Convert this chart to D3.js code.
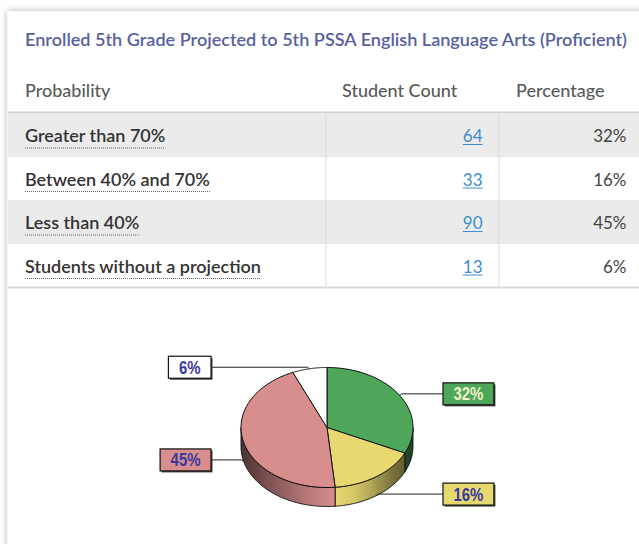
<!DOCTYPE html>
<html>
<head>
<meta charset="utf-8">
<script src="https://cdn.jsdelivr.net/npm/d3@7"></script>
<style>
  body { margin: 0; background: #fff; }
  svg { display: block; }
</style>
</head>
<body>
<script>
const width = 639,
  height = 544;

const title = "Enrolled 5th Grade Projected to 5th PSSA English Language Arts (Proficient)";
const headers = ["Probability", "Student Count", "Percentage"];
const categories = ["Greater than 70%", "Between 40% and 70%", "Less than 40%", "Students without a projection"];
const counts = [64, 33, 90, 13];
const percents = [32, 16, 45, 6];
const sliceColors = ["#4ea65a", "#e8d870", "#d98e8e", "#ffffff"];
const labelInk = ["#eef2c6", "#3b3b9e", "#3b3b9e", "#3b3b9e"];

const svg = d3.select("body").append("svg")
  .attr("width", width)
  .attr("height", height);

const defs = svg.append("defs");
defs.append("filter")
  .attr("id", "cardShadow")
  .attr("x", "-10%").attr("y", "-10%").attr("width", "120%").attr("height", "120%")
  .append("feDropShadow")
  .attr("dx", 0).attr("dy", 0)
  .attr("stdDeviation", 3.5)
  .attr("flood-color", "#000")
  .attr("flood-opacity", 0.3);

// card
svg.append("rect")
  .attr("x", 7.5).attr("y", 11)
  .attr("width", 700).attr("height", 600)
  .attr("fill", "#fff")
  .attr("filter", "url(#cardShadow)");

const font = "Lato, 'Open Sans', sans-serif";

svg.append("text")
  .attr("x", 25).attr("y", 45.7)
  .attr("fill", "#5760a0")
  .style("font", "16.5px " + font)
  .style("font-weight", 600)
  .attr("textLength", 602)
  .attr("lengthAdjust", "spacingAndGlyphs")
  .text(title);

// header
const headerX = [25, 342, 516];
svg.selectAll(".hdr").data(headers).join("text")
  .attr("class", "hdr")
  .attr("x", (d, i) => headerX[i])
  .attr("y", 97)
  .attr("fill", "#5a5a5a")
  .style("font", "18px " + font)
  .style("font-weight", 500)
  .text(d => d);

svg.append("line")
  .attr("x1", 8).attr("x2", width)
  .attr("y1", 112.5).attr("y2", 112.5)
  .attr("stroke", "#d3d3d3").attr("stroke-width", 2);

// rows
const y = d3.scaleBand().domain(categories).range([113.5, 287.5]);
const rows = svg.selectAll(".row").data(categories).join("g").attr("class", "row");

rows.append("rect")
  .attr("x", 8).attr("width", width - 8)
  .attr("y", d => y(d)).attr("height", y.bandwidth())
  .attr("fill", (d, i) => i % 2 === 0 ? "#ebebeb" : "#fff");

rows.append("line")
  .attr("x1", 8).attr("x2", width)
  .attr("y1", d => y(d) + y.bandwidth()).attr("y2", d => y(d) + y.bandwidth())
  .attr("stroke", (d, i) => i === categories.length - 1 ? "#dadada" : "#e3e3e3")
  .attr("stroke-width", (d, i) => i === categories.length - 1 ? 2 : 1);

[326, 499].forEach(x => {
  svg.append("line")
    .attr("x1", x).attr("x2", x)
    .attr("y1", 113.5).attr("y2", 287.5)
    .attr("stroke", "#dcdcdc");
});

const labels = rows.append("text")
  .attr("x", 25)
  .attr("y", d => y(d) + 28.5)
  .attr("fill", "#333")
  .style("font", "18px " + font)
  .style("font-weight", 600)
  .text(d => d);

labels.each(function (d) {
  const w = this.getComputedTextLength();
  d3.select(this.parentNode).append("line")
    .attr("x1", 25).attr("x2", 25 + w)
    .attr("y1", y(d) + 34.5).attr("y2", y(d) + 34.5)
    .attr("stroke", "#666")
    .attr("stroke-dasharray", "1,1");
});

rows.append("text")
  .attr("class", "count")
  .attr("x", 482.5)
  .attr("y", d => y(d) + 28.5)
  .attr("text-anchor", "end")
  .attr("fill", "#3d8dd0")
  .style("font", "17px " + font)
  .text((d, i) => counts[i])
  .each(function (d) {
    const w = this.getComputedTextLength();
    d3.select(this.parentNode).append("line")
      .attr("x1", 482.5 - w).attr("x2", 482.5)
      .attr("y1", y(d) + 31).attr("y2", y(d) + 31)
      .attr("stroke", "#3d8dd0");
  });

rows.append("text")
  .attr("x", 626.5)
  .attr("y", d => y(d) + 28.5)
  .attr("text-anchor", "end")
  .attr("fill", "#444")
  .style("font", "17px " + font)
  .text((d, i) => percents[i] + "%");

// 3d pie
const cx = 327,
  cy = 427.5,
  rx = 86,
  ry = 60,
  depth = 19;

const arcs = d3.pie().sort(null).value(d => d)(counts);
const pt = (a, dy = 0) => [cx + rx * Math.sin(a), cy - ry * Math.cos(a) + dy];
const line = d3.line();

const shade = [[0, 3], [0.15, 1.6], [0.35, 0.6], [0.55, 0], [0.65, 0.2], [0.75, 0.7], [0.9, 2], [1, 2.6]];
sliceColors.forEach((c, i) => {
  const g = defs.append("linearGradient")
    .attr("id", "side" + i)
    .attr("gradientUnits", "userSpaceOnUse")
    .attr("x1", cx - rx).attr("x2", cx + rx)
    .attr("y1", 0).attr("y2", 0);
  g.selectAll("stop").data(shade).join("stop")
    .attr("offset", d => d[0])
    .attr("stop-color", d => d3.color(c).darker(d[1]).formatHex());
});

const pieG = svg.append("g");

arcs.forEach((a, i) => {
  const s = Math.max(a.startAngle, Math.PI / 2),
    e = Math.min(a.endAngle, Math.PI * 1.5);
  if (s >= e) return;
  const steps = d3.range(0, 41).map(k => s + (e - s) * k / 40);
  const pts = steps.map(t => pt(t)).concat(steps.slice().reverse().map(t => pt(t, depth)));
  pieG.append("path")
    .attr("d", line(pts) + "Z")
    .attr("fill", "url(#side" + i + ")")
    .attr("stroke", "#111")
    .attr("stroke-width", 0.9)
    .attr("stroke-linejoin", "round");
});

arcs.forEach((a, i) => {
  const steps = d3.range(0, 61).map(k => a.startAngle + (a.endAngle - a.startAngle) * k / 60);
  const pts = [[cx, cy]].concat(steps.map(t => pt(t)));
  pieG.append("path")
    .attr("d", line(pts) + "Z")
    .attr("fill", sliceColors[i])
    .attr("stroke", "#111")
    .attr("stroke-width", 1)
    .attr("stroke-linejoin", "round");
});

// callouts
const boxH = 22;
arcs.forEach((a, i) => {
  const mid = (a.startAngle + a.endAngle) / 2;
  const front = mid > Math.PI / 2 && mid < Math.PI * 1.5;
  const left = mid > Math.PI;
  const anchor = pt(mid, front ? depth : 0);
  const by = anchor[1] - 1.5;
  const edge = left ? cx - 116 : cx + 116;

  const g = svg.append("g");
  g.append("polyline")
    .attr("points", [[edge, by], [anchor[0] + (left ? -2 : 2), by], anchor].map(p => p.join(",")).join(" "))
    .attr("fill", "none")
    .attr("stroke", "#222")
    .attr("stroke-width", 1);

  const t = g.append("text")
    .attr("y", by + 6.5)
    .attr("text-anchor", "middle")
    .attr("fill", labelInk[i])
    .style("font", "bold 18px 'Liberation Sans', Arial, sans-serif")
    .text(percents[i] + "%");
  const tw = t.node().getComputedTextLength() * 0.83;
  t.attr("textLength", tw).attr("lengthAdjust", "spacingAndGlyphs");
  const w = tw + 21;
  const bx = left ? edge - w : edge;

  g.insert("rect", "text")
    .attr("x", bx + 1.5).attr("y", by - boxH / 2 + 1.5)
    .attr("width", w).attr("height", boxH)
    .attr("fill", "#444");
  g.insert("rect", "text")
    .attr("x", bx).attr("y", by - boxH / 2)
    .attr("width", w).attr("height", boxH)
    .attr("fill", sliceColors[i])
    .attr("stroke", "#111")
    .attr("stroke-width", 1.2);
  t.attr("x", bx + w / 2);
});
</script>
</body>
</html>
